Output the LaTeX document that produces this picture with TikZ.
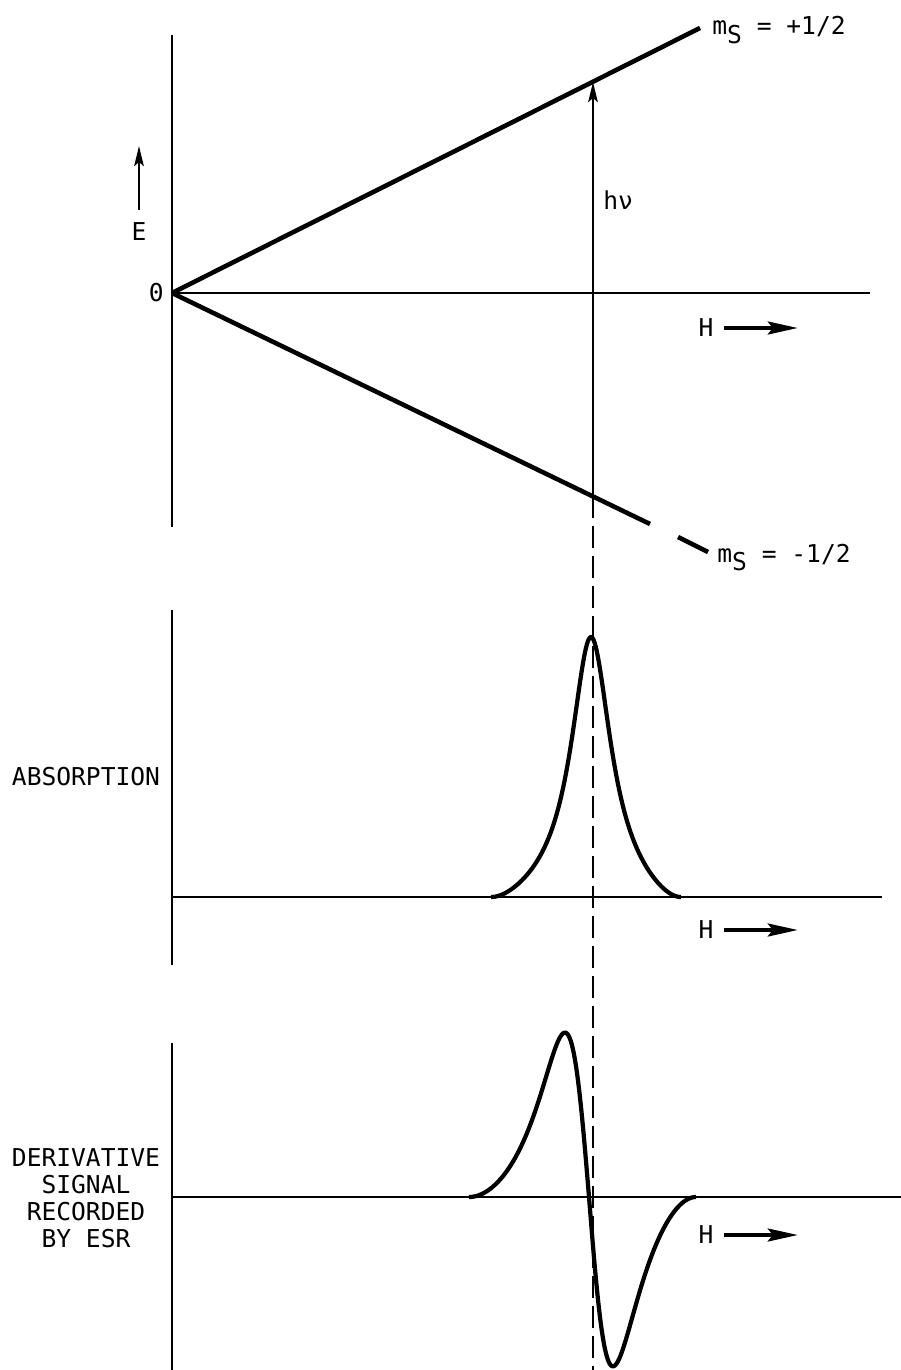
\documentclass[tikz,border=0pt]{standalone}
\usepackage{fontspec}
\setmonofont{DejaVu Sans Mono}
\usetikzlibrary{arrows.meta}

\tikzset{
  axis/.style={line width=1.4pt},
  level/.style={line width=2.6pt},
  trace/.style={line width=2.4pt, line join=round},
  lbl/.style={font=\ttfamily\fontsize{14}{15.3}\selectfont, inner sep=0pt},
  harrow/.style={-{Stealth[length=6mm,width=2.6mm,inset=1mm]}, line width=2pt},
  varrow/.style={-{Stealth[length=4mm,width=1.9mm,inset=0.8mm]}, line width=1.6pt},
  resline/.style={line width=1.5pt, dash pattern=on 4.4mm off 1.6mm},
}

\begin{document}
\begin{tikzpicture}[x=0.2mm, y=-0.2mm]
    \useasboundingbox (0,0) rectangle (901,1370);

    % Top panel: energy levels
    \coordinate (O) at (172,293);
    \coordinate (upend) at (700,28);
    \coordinate (lowend) at (650,524);
    \coordinate (hup) at (593,82);
    \coordinate (hlow) at (593,496);
    \draw[axis] (172,35) -- (172,527);
    \draw[axis] (O) -- (870,293);
    \draw[level] (O) -- (upend);
    \draw[level] (O) -- (lowend);
    \draw[level] (678,537) -- (708,552);

    \node[lbl, anchor=east] (zero) at (164,293) {0};
    \node[lbl] (E) at (139,232) {E};
    \draw[varrow] ([yshift=2.6mm]E.north) -- (139,146);
    \node[lbl, anchor=base west] (msup) at (712,35) {m\raisebox{-5pt}{S} = +1/2};
    \node[lbl, anchor=base west] (msdn) at (717,562) {m\raisebox{-5pt}{S} = -1/2};

    \draw[varrow] (hlow) -- (hup);
    \node[lbl, anchor=west] (hnu) at (603,200) {hν};
    \draw[resline] (hlow) -- (593,1370);

    \node[lbl] (Htop) at (706,328) {H};
    \draw[harrow] ([xshift=2mm]Htop.east) -- ++(74,0);

    % Middle panel: absorption line
    \draw[axis] (172,610) -- (172,965);
    \draw[axis] (172,897) -- (882,897);
    \draw[trace] plot[domain=-100:0, samples=100]
        ({591+\x}, {897-260*(1-(\x/100)^4)^2/(1+(\x/24)^2)})
      -- plot[domain=0:90, samples=100]
        ({591+\x}, {897-260*(1-(\x/90)^4)^2/(1+(\x/24)^2)});
    \node[lbl] (absorb) at (86,777) {ABSORPTION};
    \node[lbl] (Hmid) at (706,930) {H};
    \draw[harrow] ([xshift=2mm]Hmid.east) -- ++(74,0);

    % Bottom panel: first derivative
    \draw[axis] (172,1043) -- (172,1370);
    \draw[axis] (172,1197) -- (901,1197);
    \draw[trace] plot[domain=-120:0, samples=120]
        ({589+\x}, {1197+254*(2*\x/42)/(1+(\x/42)^2)^2*(1-(\x/120)^4)^2})
      -- plot[domain=0:107, samples=110]
        ({589+\x}, {1197+262*(2*\x/42)/(1+(\x/42)^2)^2*(1-(\x/107)^4)^2});
    \node[lbl, align=center] (deriv) at (86,1198)
        {DERIVATIVE\\SIGNAL\\RECORDED\\BY ESR};
    \node[lbl] (Hbot) at (706,1235) {H};
    \draw[harrow] ([xshift=2mm]Hbot.east) -- ++(74,0);
\end{tikzpicture}
\end{document}
